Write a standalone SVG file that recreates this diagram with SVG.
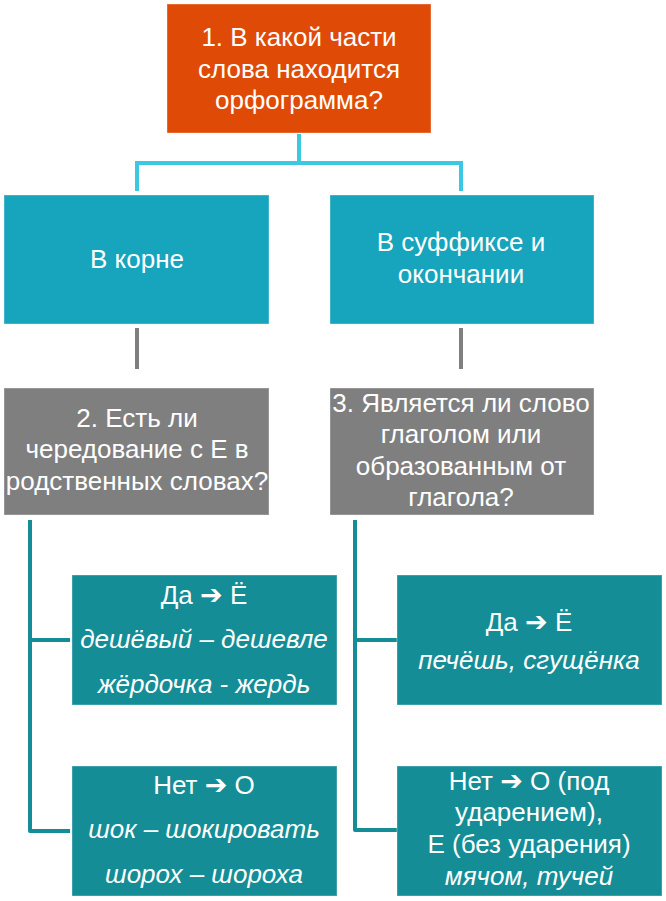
<svg xmlns="http://www.w3.org/2000/svg" width="666" height="901" viewBox="0 0 666 901">
<style>
text{font-family:"Liberation Sans",Arial,sans-serif;font-size:26px;fill:#fff;text-anchor:middle}
.i{font-style:italic}
.ar{font-family:"DejaVu Sans",sans-serif;font-weight:bold;font-size:27px}
.top{fill:#E04A07}
.l2{fill:#17A4BD}
.gr{fill:#7F7F7F}
.lf{fill:#148D96}
rect{stroke:#ffffff;stroke-opacity:0.35;stroke-width:1}
.c1{stroke:#3CC8E2;stroke-width:4;fill:none}
.c2{stroke:#7F7F7F;stroke-width:4;fill:none}
.c3{stroke:#148D96;stroke-width:4;fill:none;stroke-linejoin:round}
</style>
<g id="connectors">
<path class="c1" d="M299 134V163M137 163H461M137 161V191M461 161V191"/>
<path class="c2" d="M137 328V369M461 328V369"/>
<path class="c3" d="M30 520V831H70M30 640H70"/>
<path class="c3" d="M355 520V830H397M355 640H397"/>
</g>
<g id="n1"><rect class="top" x="167" y="4" width="264" height="129"/>
<text x="299" y="46">1. В какой части</text><text x="299" y="78">слова находится</text><text x="299" y="109">орфограмма?</text></g>
<g id="n2"><rect class="l2" x="4" y="195" width="265" height="129"/>
<text x="137" y="268">В корне</text></g>
<g id="n3"><rect class="l2" x="330" y="195" width="264" height="129"/>
<text x="461" y="251">В суффиксе и</text><text x="461" y="283">окончании</text></g>
<g id="n4"><rect class="gr" x="4" y="388" width="265" height="127"/>
<text x="137" y="427">2. Есть ли</text><text x="137" y="458">чередование с Е в</text><text x="137" y="490">родственных словах?</text></g>
<g id="n5"><rect class="gr" x="330" y="388" width="264" height="127"/>
<text x="461" y="412">3. Является ли слово</text><text x="461" y="443">глаголом или</text><text x="461" y="475">образованным от</text><text x="461" y="506">глагола?</text></g>
<g id="n6"><rect class="lf" x="72" y="575" width="265" height="130"/>
<text x="204" y="604">Да <tspan class="ar">➔</tspan> Ё</text><text class="i" x="204" y="648">дешёвый – дешевле</text><text class="i" x="204" y="693">жёрдочка - жердь</text></g>
<g id="n7"><rect class="lf" x="72" y="766" width="265" height="130"/>
<text x="204" y="794">Нет <tspan class="ar">➔</tspan> О</text><text class="i" x="204" y="838">шок – шокировать</text><text class="i" x="204" y="883">шорох – шороха</text></g>
<g id="n8"><rect class="lf" x="397" y="575" width="265" height="130"/>
<text x="529" y="631">Да <tspan class="ar">➔</tspan> Ё</text><text class="i" x="529" y="669">печёшь, сгущёнка</text></g>
<g id="n9"><rect class="lf" x="397" y="766" width="265" height="130"/>
<text x="529" y="790">Нет <tspan class="ar">➔</tspan> О (под</text><text x="529" y="821">ударением),</text><text x="529" y="853">Е (без ударения)</text><text class="i" x="529" y="885">мячом, тучей</text></g>
</svg>
